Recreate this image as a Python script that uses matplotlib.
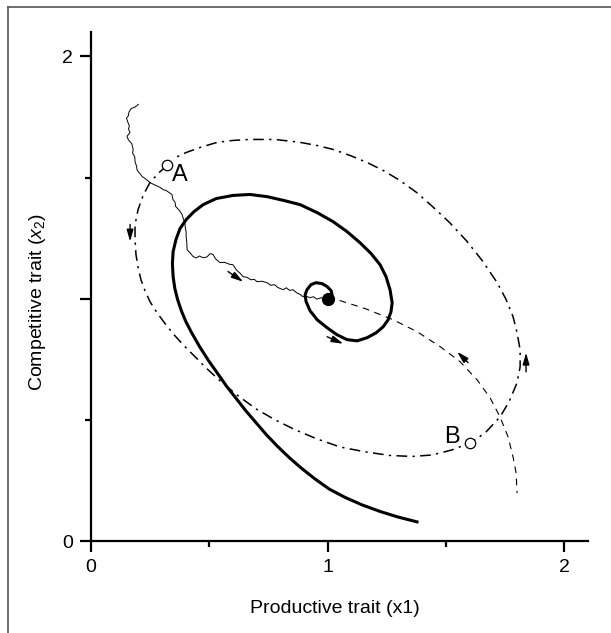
import numpy as np
import matplotlib
matplotlib.use("Agg")
import matplotlib.pyplot as plt
from matplotlib.lines import Line2D

plt.rcParams["font.family"] = ["Liberation Sans", "DejaVu Sans"]
plt.rcParams["mathtext.fontset"] = "custom"
plt.rcParams["mathtext.rm"] = "Liberation Sans"
plt.rcParams["mathtext.it"] = "Liberation Sans:italic"

# trajectoire en spirale (trait plein)
spiral_x = [1.378, 1.298, 1.222, 1.146, 1.074, 1.006, 0.947, 0.890, 0.837, 0.786, 0.740, 0.696,
            0.653, 0.613, 0.575, 0.539, 0.497, 0.459, 0.425, 0.401, 0.382, 0.366, 0.354, 0.347,
            0.344, 0.347, 0.359, 0.376, 0.402, 0.435, 0.474, 0.529, 0.600,
            0.672, 0.744, 0.816, 0.884, 0.956, 1.023, 1.082, 1.137, 1.184, 1.222, 1.247, 1.264,
            1.273, 1.268, 1.256, 1.235, 1.205, 1.167, 1.125, 1.082, 1.040, 0.998, 0.956, 0.926,
            0.909, 0.905, 0.913, 0.930, 0.951, 0.977, 0.998, 1.015, 1.019, 1.011, 1.0]
spiral_y = [0.079, 0.099, 0.122, 0.149, 0.180, 0.215, 0.256, 0.300, 0.345, 0.393, 0.440, 0.490,
            0.539, 0.589, 0.636, 0.686, 0.744, 0.802, 0.860, 0.905, 0.950, 0.996, 1.043, 1.091,
            1.145, 1.194, 1.244, 1.289, 1.326, 1.359, 1.388, 1.413, 1.426,
            1.430, 1.421, 1.405, 1.388, 1.355, 1.318, 1.277, 1.231, 1.186, 1.140, 1.091, 1.037,
            0.983, 0.946, 0.913, 0.884, 0.859, 0.839, 0.826, 0.831, 0.851, 0.880, 0.913, 0.950,
            0.988, 1.016, 1.037, 1.058, 1.066, 1.062, 1.050, 1.033, 1.016, 1.004, 1.0]

# cycle limite (tiret-point), de A vers A
cycle_x = [0.321, 0.283, 0.249, 0.220, 0.199, 0.186, 0.186, 0.190, 0.199, 0.211, 0.228, 0.249,
           0.279, 0.313, 0.351, 0.393, 0.440, 0.490, 0.550, 0.622, 0.698, 0.778, 0.863, 0.956,
           1.053, 1.159, 1.264, 1.357, 1.442, 1.526, 1.603, 1.666, 1.729, 1.767, 1.801, 1.814,
           1.814, 1.801, 1.784, 1.755, 1.717, 1.653, 1.588, 1.518, 1.446, 1.378, 1.307, 1.239,
           1.167, 1.095, 1.023, 0.956, 0.884, 0.778, 0.672, 0.600, 0.533, 0.461, 0.402, 0.359]
cycle_y = [1.550, 1.516, 1.479, 1.426, 1.368, 1.306, 1.244, 1.182, 1.128, 1.078, 1.033, 0.988,
           0.942, 0.897, 0.851, 0.806, 0.760, 0.711, 0.657, 0.599, 0.545, 0.500, 0.459, 0.421,
           0.388, 0.368, 0.353, 0.349, 0.355, 0.376, 0.405, 0.446, 0.512, 0.574, 0.653, 0.719,
           0.789, 0.860, 0.926, 0.996, 1.066, 1.158, 1.238, 1.312, 1.378, 1.437, 1.487, 1.527,
           1.562, 1.591, 1.616, 1.632, 1.645, 1.657, 1.657, 1.653, 1.645, 1.624, 1.603, 1.583]

# trajectoire partant de B (tirets fins)
dash_x = [1.0, 1.040, 1.159, 1.277, 1.378, 1.476, 1.560, 1.632, 1.687, 1.729, 1.763, 1.784, 1.797, 1.801]
dash_y = [1.0, 0.996, 0.959, 0.913, 0.864, 0.802, 0.740, 0.665, 0.591, 0.512, 0.430, 0.347, 0.281, 0.198]

# trajectoire stochastique partant de A
walk_x = [0.200, 0.185, 0.170, 0.160, 0.158, 0.150, 0.155, 0.162, 0.158, 0.165, 0.152, 0.158,
          0.172, 0.178, 0.176, 0.185, 0.186, 0.192, 0.195, 0.208, 0.216, 0.230, 0.249, 0.268,
          0.292, 0.305, 0.318, 0.330, 0.342, 0.346, 0.355, 0.358, 0.372, 0.385, 0.390, 0.397,
          0.398, 0.402, 0.402, 0.405, 0.406, 0.418, 0.431, 0.445, 0.458, 0.474, 0.490, 0.503,
          0.516, 0.526, 0.545, 0.565, 0.585, 0.600, 0.615, 0.630, 0.643, 0.660, 0.675, 0.690,
          0.702, 0.722, 0.744, 0.760, 0.775, 0.790, 0.812, 0.826, 0.840, 0.854, 0.868, 0.883,
          0.896, 0.910, 0.926, 0.940, 0.955, 0.972, 0.985, 1.0]
walk_y = [1.802, 1.790, 1.785, 1.770, 1.755, 1.745, 1.730, 1.712, 1.700, 1.686, 1.670, 1.655,
          1.640, 1.616, 1.600, 1.585, 1.565, 1.548, 1.530, 1.515, 1.504, 1.495, 1.479, 1.470,
          1.459, 1.450, 1.446, 1.438, 1.430, 1.410, 1.398, 1.380, 1.366, 1.347, 1.330, 1.314,
          1.295, 1.276, 1.256, 1.230, 1.202, 1.190, 1.174, 1.168, 1.176, 1.169, 1.172, 1.186,
          1.182, 1.165, 1.149, 1.150, 1.142, 1.140, 1.118, 1.105, 1.091, 1.088, 1.078, 1.080,
          1.070, 1.072, 1.066, 1.055, 1.058, 1.046, 1.037, 1.045, 1.034, 1.037, 1.025, 1.018,
          1.008, 1.010, 1.004, 1.008, 0.998, 1.004, 0.998, 1.0]

# fleches (queue -> tete)
arrow_tails = [(0.998, 0.843), (0.165, 1.306), (1.839, 0.698), (1.594, 0.736), (0.579, 1.112)]
arrow_heads = [(1.066, 0.814), (0.165, 1.236), (1.839, 0.777), (1.548, 0.781), (0.643, 1.070)]

equilibre = (1.0, 1.0)
point_A = (0.321, 1.55)
point_B = (1.603, 0.405)

fig = plt.figure(figsize=(6.11, 6.33), dpi=100)
ax = fig.add_axes([0.149, 0.1453, 0.813, 0.804])

ax.plot(spiral_x, spiral_y, color="black", lw=2.2, solid_joinstyle="round")
ax.plot(cycle_x, cycle_y, color="black", lw=1.1, dashes=(7, 3.5, 1.5, 3.5))
ax.plot(dash_x, dash_y, color="black", lw=0.8, dashes=(6, 5))
ax.plot(walk_x, walk_y, color="black", lw=0.7)

for (x0, y0), (x1, y1) in zip(arrow_tails, arrow_heads):
    ax.annotate("", xy=(x1, y1), xytext=(x0, y0),
                arrowprops=dict(arrowstyle="-|>,head_length=0.7,head_width=0.2",
                                color="black", lw=1.0, shrinkA=0, shrinkB=0))

ax.plot(*equilibre, "o", color="black", markersize=8.5)
ax.plot(*point_A, "o", mfc="white", mec="black", mew=0.9, markersize=7.5)
ax.plot(*point_B, "o", mfc="white", mec="black", mew=0.9, markersize=7.5)
ax.text(0.375, 1.51, "A", fontsize=17, ha="center", va="center")
ax.text(1.527, 0.43, "B", fontsize=17, ha="center", va="center")

ax.set_xlim(0, 2.1)
ax.set_ylim(0, 2.1)
for s in ["top", "right"]:
    ax.spines[s].set_visible(False)
for s in ["left", "bottom"]:
    ax.spines[s].set_linewidth(1.6)

ax.set_xticks([0, 1, 2])
ax.set_xticks([0.5, 1.5], minor=True)
ax.set_yticks([0, 1, 2])
ax.set_yticklabels(["0", "", "2"])
ax.set_yticks([0.5, 1.5], minor=True)
ax.tick_params(which="major", direction="out", length=8, width=1.6, labelsize=14, pad=5)
ax.tick_params(which="minor", direction="out", length=4.5, width=1.6)

ax.set_xlabel("Productive trait (x1)", fontsize=14)
ax.set_ylabel("Competitive trait ($\\mathit{x}_2$)", fontsize=14)
ax.xaxis.set_label_coords(0.491, -0.116)
ax.yaxis.set_label_coords(-0.087, 0.47)

# cadre gris en haut et a gauche
fig.add_artist(Line2D([8 / 611, 8 / 611], [0, 1 - 7 / 633], color="#555555", lw=1.2))
fig.add_artist(Line2D([8 / 611, 1], [1 - 7 / 633, 1 - 7 / 633], color="#555555", lw=1.2))

fig.savefig("out.png", dpi=100)
